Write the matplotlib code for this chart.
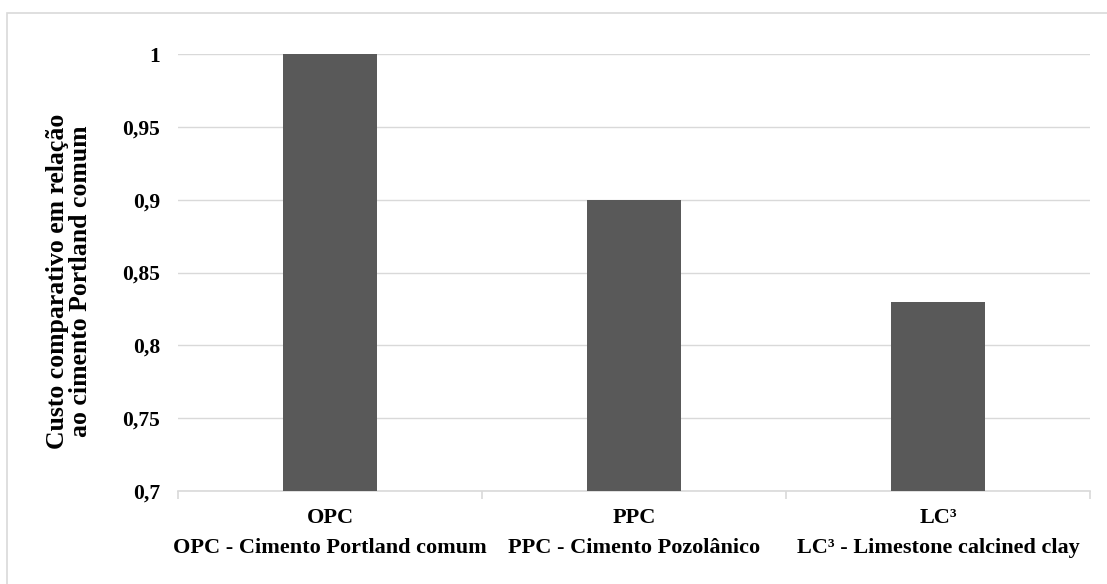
import matplotlib
matplotlib.use('Agg')
from matplotlib import pyplot as plt
from matplotlib.patches import Rectangle

categories = ['OPC', 'PPC', 'LC³']
descriptions = ['OPC - Cimento Portland comum', 'PPC - Cimento Pozolânico', 'LC³ - Limestone calcined clay']
values = [1.0, 0.9, 0.83]
yticks = [0.7, 0.75, 0.8, 0.85, 0.9, 0.95, 1.0]
ytick_labels = ['0,7', '0,75', '0,8', '0,85', '0,9', '0,95', '1']

plt.rcParams['font.family'] = ['Liberation Serif', 'DejaVu Serif']
plt.rcParams['font.weight'] = 'bold'

W, H = 1107, 584
fig = plt.figure(figsize=(W / 100, H / 100), dpi=100)
ax = fig.add_axes([178 / W, 1 - 491 / H, (1090 - 178) / W, (491 - 54) / H])

# outer frame of the chart area (only top and left edges fall inside the image)
fig.patches.append(Rectangle((7 / W, -20 / H), 1200 / W, (H + 20 - 13) / H, transform=fig.transFigure,
                             fill=False, edgecolor='#d9d9d9', linewidth=1.2))

x = list(range(len(categories)))
ax.bar(x, values, width=0.31, color='#595959', zorder=3)

ax.set_xlim(-0.5, 2.5)
ax.set_ylim(0.7, 1.0)
ax.set_yticks(yticks)
ax.set_yticklabels(ytick_labels, fontsize=15.5, fontweight='bold')
ax.grid(axis='y', color='#d9d9d9', linewidth=1, zorder=0)
ax.tick_params(axis='y', length=0, pad=13)

for s in ['top', 'right', 'left']:
    ax.spines[s].set_visible(False)
ax.spines['bottom'].set_color('#d9d9d9')
ax.spines['bottom'].set_linewidth(1.2)

# category separators below the axis
ax.set_xticks([-0.5, 0.5, 1.5, 2.5])
ax.set_xticklabels([])
ax.tick_params(axis='x', length=6, color='#d9d9d9', width=1.2, direction='out')

for i in x:
    ax.annotate(categories[i], xy=(i, 0), xycoords=('data', 'axes fraction'), xytext=(0, -27 * 0.72),
                textcoords='offset points', ha='center', va='center', fontsize=16, fontweight='bold')
    ax.annotate(descriptions[i], xy=(i, 0), xycoords=('data', 'axes fraction'), xytext=(0, -57 * 0.72),
                textcoords='offset points', ha='center', va='center', fontsize=16, fontweight='bold')

fig.text(69 / W, 1 - 281 / H, 'Custo comparativo em relação\nao cimento Portland comum', rotation=90,
         ha='center', va='center', fontsize=18.5, fontweight='bold', linespacing=1.05, multialignment='center')

fig.savefig('out.png', dpi=100)
